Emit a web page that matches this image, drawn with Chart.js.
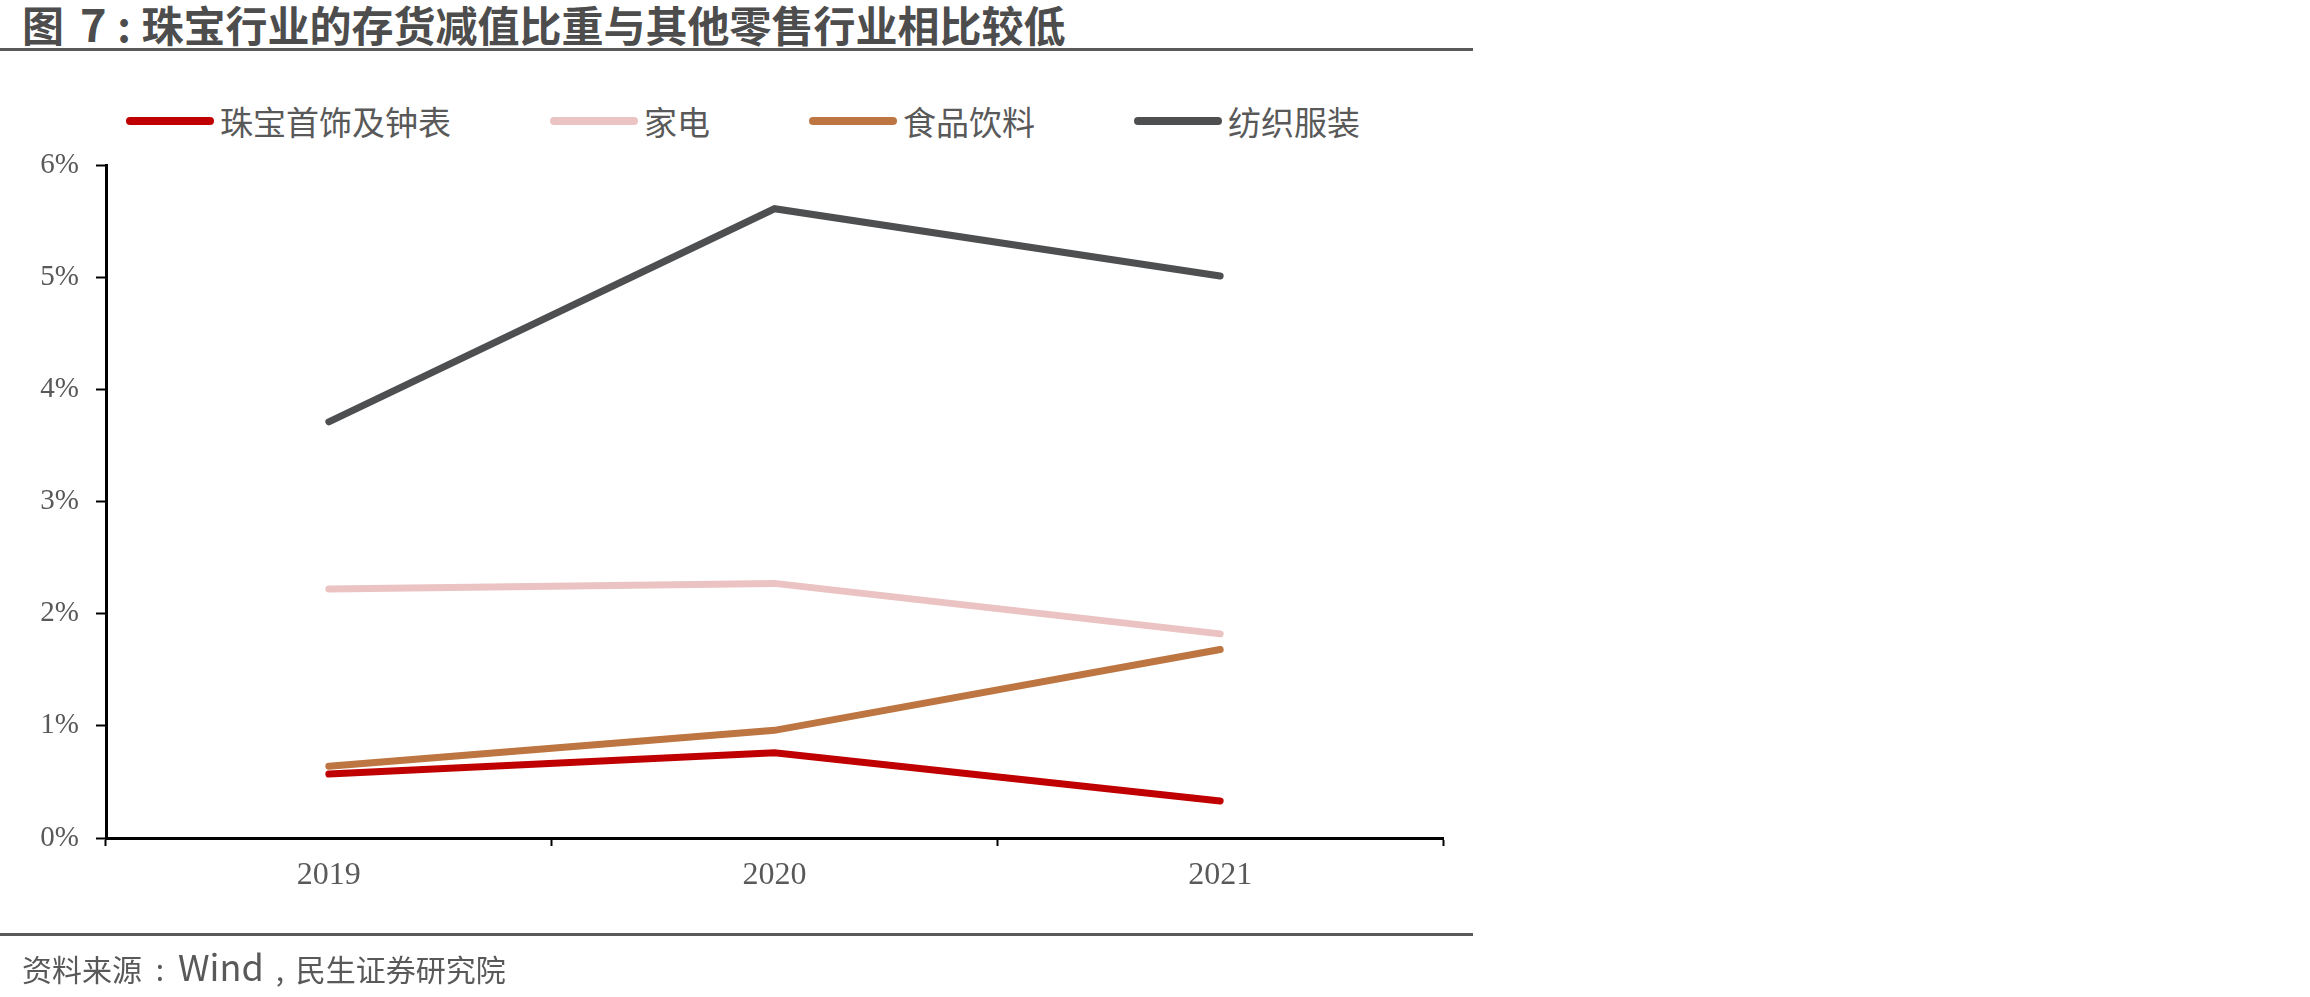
<!DOCTYPE html>
<html>
<head>
<meta charset="utf-8">
<script src="https://cdn.jsdelivr.net/npm/chart.js@4"></script>
<style>
    html, body { margin: 0; padding: 0; background: #fff; }
    body { width: 2310px; height: 997px; position: relative; overflow: hidden; font-family: "Noto Sans CJK SC", sans-serif; }
    .title { position: absolute; left: 22px; top: 0px; font-size: 42px; line-height: 46px; font-weight: bold; color: #4d4d4d; white-space: nowrap; }
    .title .num { font-size: 45px; }
    .rule { position: absolute; left: 0; width: 1473px; height: 3px; background: #595959; }
    .legend { position: absolute; left: 126px; top: 100px; height: 42px; display: flex; align-items: center; }
    .legend .item { display: flex; align-items: center; margin-right: 99px; }
    .legend .swatch { width: 88px; height: 8px; border-radius: 4px; margin-right: 6px; }
    .legend .label { font-size: 33px; line-height: 42px; color: #595959; white-space: nowrap; }
    .source { position: absolute; left: 22px; top: 944px; font-size: 30px; line-height: 42px; color: #595959; white-space: nowrap; }
    .source .latin { font-size: 36px; }
    .punct { display: inline-block; text-align: center; }
    .chart-box { position: absolute; left: 0; top: 0; width: 1500px; height: 997px; }
</style>
</head>
<body>
<div class="title">图<span class="punct" style="width:16px"></span><span class="num">7</span><span class="punct" style="width:35px">:</span>珠宝行业的存货减值比重与其他零售行业相比较低</div>
<div class="rule" style="top: 48px;"></div>
<div class="legend" id="legend"></div>
<div class="chart-box"><canvas id="lineChart"></canvas></div>
<div class="rule" style="top: 933px;"></div>
<div class="source">资料来源<span class="punct" style="width:36px">:</span><span class="latin">Wind</span><span class="punct" style="width:32px">,</span>民生证券研究院</div>

<script>
const years = ['2019', '2020', '2021'];
const seriesNames = ['珠宝首饰及钟表', '家电', '食品饮料', '纺织服装'];
const jewelry = [0.57, 0.76, 0.33];
const appliances = [2.22, 2.27, 1.82];
const foodBeverage = [0.64, 0.96, 1.68];
const textileApparel = [3.71, 5.61, 5.01];
const yTicks = [0, 1, 2, 3, 4, 5, 6];
const seriesColors = ['#c00000', '#ebc3c3', '#bd7542', '#4d4f51'];

document.addEventListener('DOMContentLoaded', () => {
    const allValues = [jewelry, appliances, foodBeverage, textileApparel];

    const legendEl = document.getElementById('legend');
    seriesNames.forEach((name, i) => {
        const item = document.createElement('div');
        item.className = 'item';
        item.innerHTML = '<span class="swatch" style="background:' + seriesColors[i] + '"></span><span class="label">' + name + '</span>';
        legendEl.appendChild(item);
    });

    const ctx = document.getElementById('lineChart')?.getContext('2d');
    if (!ctx) return;

    const tickFont = { family: '"Liberation Serif", serif' };

    new Chart(ctx, {
        type: 'line',
        data: {
            labels: years,
            datasets: seriesNames.map((name, i) => ({
                label: name,
                data: allValues[i],
                borderColor: seriesColors[i],
                backgroundColor: seriesColors[i],
                borderWidth: 7,
                borderCapStyle: 'round',
                borderJoinStyle: 'miter',
                pointRadius: 0,
                pointHoverRadius: 0,
                tension: 0,
                fill: false
            }))
        },
        options: {
            responsive: true,
            maintainAspectRatio: false,
            animation: false,
            layout: {
                padding: { top: 165, right: 57, bottom: 99, left: 0 }
            },
            plugins: {
                legend: { display: false },
                tooltip: { enabled: false }
            },
            scales: {
                x: {
                    offset: true,
                    afterFit: (scale) => { scale.height = 60; },
                    border: { color: '#000', width: 3 },
                    grid: {
                        offset: true,
                        drawOnChartArea: false,
                        drawTicks: true,
                        tickLength: 8,
                        tickWidth: 2,
                        tickColor: '#000'
                    },
                    ticks: {
                        color: '#595959',
                        font: { ...tickFont, size: 32 },
                        padding: 10,
                        maxRotation: 0
                    }
                },
                y: {
                    min: yTicks[0],
                    max: yTicks[yTicks.length - 1],
                    afterFit: (scale) => { scale.width = 106; },
                    afterBuildTicks: (scale) => { scale.ticks = yTicks.map(v => ({ value: v })); },
                    border: { color: '#000', width: 3 },
                    grid: {
                        drawOnChartArea: false,
                        drawTicks: true,
                        tickLength: 10,
                        tickWidth: 2,
                        tickColor: '#000'
                    },
                    ticks: {
                        color: '#595959',
                        font: { ...tickFont, size: 29 },
                        padding: 17,
                        callback: (value) => value + '%'
                    }
                }
            }
        }
    });
});
</script>
</body>
</html>
